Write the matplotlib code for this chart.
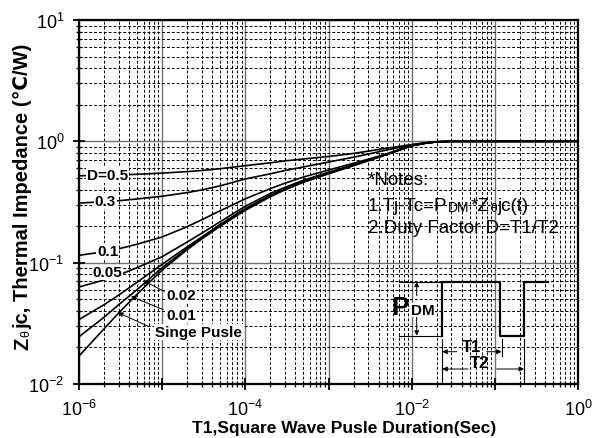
import numpy as np
import matplotlib
matplotlib.use("Agg")
import matplotlib.pyplot as plt
from matplotlib.ticker import LogLocator, NullFormatter

plt.rcParams['font.family'] = ['Liberation Sans', 'DejaVu Sans']
plt.rcParams['mathtext.fontset'] = 'custom'
plt.rcParams['mathtext.rm'] = 'Liberation Sans'
plt.rcParams['mathtext.it'] = 'Liberation Sans:italic'
plt.rcParams['mathtext.bf'] = 'Liberation Sans:bold'

# ===== pulse width (s) =====
t_pulse = np.array([1e-6, 2e-6, 3e-6, 5e-6, 1e-5, 2e-5, 3e-5, 5e-5, 1e-4, 2e-4, 3e-4,
                    5e-4, 1e-3, 2e-3, 3e-3, 5e-3, 1e-2, 1.5e-2, 2e-2, 3e-2, 1e-1, 1.0])

# ===== Zthjc (C/W) for each duty factor =====
z_d050 = [0.520, 0.525, 0.529, 0.535, 0.547, 0.563, 0.575, 0.595, 0.630, 0.665, 0.690,
          0.715, 0.750, 0.795, 0.830, 0.878, 0.940, 0.975, 0.993, 1.0, 1.0, 1.0]
z_d030 = [0.310, 0.318, 0.324, 0.335, 0.353, 0.378, 0.398, 0.430, 0.490, 0.540, 0.575,
          0.615, 0.675, 0.740, 0.785, 0.848, 0.935, 0.972, 0.992, 1.0, 1.0, 1.0]
z_d010 = [0.115, 0.123, 0.130, 0.142, 0.163, 0.198, 0.226, 0.268, 0.336, 0.408, 0.452,
          0.508, 0.580, 0.660, 0.712, 0.790, 0.925, 0.968, 0.990, 1.0, 1.0, 1.0]
z_d005 = [0.063, 0.072, 0.079, 0.091, 0.112, 0.148, 0.175, 0.218, 0.292, 0.372, 0.418,
          0.478, 0.556, 0.642, 0.700, 0.782, 0.922, 0.968, 0.990, 1.0, 1.0, 1.0]
z_d002 = [0.034, 0.045, 0.054, 0.069, 0.097, 0.135, 0.163, 0.207, 0.280, 0.360, 0.406,
          0.468, 0.548, 0.636, 0.697, 0.780, 0.920, 0.968, 0.990, 1.0, 1.0, 1.0]
z_d001 = [0.0245, 0.0355, 0.045, 0.060, 0.091, 0.131, 0.160, 0.203, 0.275, 0.355, 0.402,
          0.464, 0.545, 0.633, 0.695, 0.779, 0.920, 0.968, 0.990, 1.0, 1.0, 1.0]
z_single = [0.017, 0.0285, 0.0385, 0.055, 0.087, 0.128, 0.157, 0.200, 0.270, 0.350, 0.398,
            0.460, 0.540, 0.630, 0.692, 0.778, 0.920, 0.968, 0.990, 1.0, 1.0, 1.0]
curves = [z_d050, z_d030, z_d010, z_d005, z_d002, z_d001, z_single]

# ===== axis ticks =====
x_ticks = [1e-6, 1e-5, 1e-4, 1e-3, 1e-2, 1e-1, 1.0]
x_ticklabels = [r"$10^{-6}$", "", r"$10^{-4}$", "", r"$10^{-2}$", "", r"$10^{0}$"]
y_ticks = [1e-2, 1e-1, 1.0, 10.0]
y_ticklabels = [r"$10^{-2}$", r"$10^{-1}$", r"$10^{0}$", r"$10^{1}$"]

fig = plt.figure(figsize=(5.96, 4.39), dpi=100)
ax = fig.add_axes([79 / 596, 54 / 439, 499 / 596, 364 / 439])

for z in curves:
    ax.plot(t_pulse, z, color="black", lw=1.2, zorder=3)

ax.set_xscale("log")
ax.set_yscale("log")
ax.set_xlim(1e-6, 1.0)
ax.set_ylim(1e-2, 10.0)
ax.set_xticks(x_ticks)
ax.set_xticklabels(x_ticklabels)
ax.set_yticks(y_ticks)
ax.set_yticklabels(y_ticklabels)
ax.xaxis.set_minor_locator(LogLocator(base=10, subs=np.arange(2, 10), numticks=20))
ax.yaxis.set_minor_locator(LogLocator(base=10, subs=np.arange(2, 10), numticks=20))
ax.xaxis.set_minor_formatter(NullFormatter())
ax.yaxis.set_minor_formatter(NullFormatter())
ax.tick_params(which="major", direction="inout", length=9, width=1.3, labelsize=13, pad=6)
ax.tick_params(which="minor", direction="inout", length=5, width=0.9)
for sp in ax.spines.values():
    sp.set_linewidth(1.6)

ax.grid(which="major", color="#707070", lw=1.0, ls="-")
ax.grid(which="minor", color="black", lw=0.7, ls=(0, (3, 2)))
ax.set_axisbelow(True)

# ===== curve labels =====
lbl = dict(fontsize=11, fontweight="bold", va="center", ha="left", zorder=4,
           bbox=dict(facecolor="white", edgecolor="none", pad=0.5))
ax.text(1.25e-6, 0.53, "D=0.5", **lbl)
ax.text(1.55e-6, 0.323, "0.3", **lbl)
ax.text(1.65e-6, 0.125, "0.1", **lbl)
ax.text(1.45e-6, 0.083, "0.05", **lbl)
ax.text(1.12e-5, 0.0537, "0.02", **lbl)
ax.text(1.12e-5, 0.0369, "0.01", **lbl)
ax.text(8.2e-6, 0.0267, "Singe Pusle", **lbl)

arr = dict(arrowstyle="-|>", color="black", lw=0.7, mutation_scale=7, shrinkA=0, shrinkB=0)
ax.annotate("", xy=(10 ** -5.231, 10 ** -1.146), xytext=(10 ** -4.978, 10 ** -1.237), arrowprops=arr, zorder=4)
ax.annotate("", xy=(10 ** -5.375, 10 ** -1.278), xytext=(10 ** -4.99, 10 ** -1.386), arrowprops=arr, zorder=4)
ax.annotate("", xy=(10 ** -5.531, 10 ** -1.411), xytext=(10 ** -5.159, 10 ** -1.527), arrowprops=arr, zorder=4)


def chain(x, y, parts):
    # draws text pieces one after another on the same line
    fs0, s0 = parts[0]
    prev = ax.text(x, y, s0, fontsize=fs0, transform=ax.transAxes, va="bottom", ha="left", zorder=4)
    for fs, s in parts[1:]:
        prev = ax.annotate(s, xy=(1, 0), xycoords=prev, xytext=(0.6, 0), textcoords="offset points",
                           fontsize=fs, va="bottom", ha="left", zorder=4)
    return prev


# ===== notes =====
chain(0.579, 0.538, [(13.5, "*Notes:")])
chain(0.579, 0.468, [(13.5, "1.Tj-Tc=P"), (10, "DM"), (13.5, "*Z"), (8.5, "θ"), (13.5, "jc(t)")])
chain(0.579, 0.406, [(13.5, "2.Duty Factor D=T1/T2")])

# ===== pulse sketch (axes fraction) =====
tr = ax.transAxes
px = [0.728, 0.728, 0.8437, 0.8437, 0.8918, 0.8918, 0.9399]
py = [0.1327, 0.281, 0.281, 0.1327, 0.1327, 0.281, 0.281]
ax.plot(px, py, color="black", lw=1.6, transform=tr, zorder=4)
ax.plot([0.6413, 0.728], [0.281, 0.281], color="black", lw=0.8, transform=tr, zorder=4)
ax.plot([0.6413, 0.728], [0.1327, 0.1327], color="black", lw=0.8, transform=tr, zorder=4)
ax.plot([0.728, 0.728], [0.1236, 0.0055], color="black", lw=0.8, transform=tr, zorder=4)
ax.plot([0.847, 0.847], [0.1236, 0.0769], color="black", lw=0.8, transform=tr, zorder=4)
ax.plot([0.8918, 0.8918], [0.1236, 0.0055], color="black", lw=0.8, transform=tr, zorder=4)

ax.annotate("", xy=(0.6767, 0.281), xytext=(0.6767, 0.2426), xycoords=tr, textcoords=tr, arrowprops=arr)
ax.annotate("", xy=(0.6767, 0.1327), xytext=(0.6767, 0.1876), xycoords=tr, textcoords=tr, arrowprops=arr)
ax.text(0.626, 0.1923, "P", fontsize=19, fontweight="bold", transform=tr, va="baseline", zorder=5)
ax.text(0.665, 0.1923, "DM", fontsize=11, fontweight="bold", transform=tr, va="baseline", zorder=5,
        bbox=dict(facecolor="white", edgecolor="none", pad=0.3))

ax.annotate("", xy=(0.728, 0.0887), xytext=(0.757, 0.0887), xycoords=tr, textcoords=tr, arrowprops=arr)
ax.annotate("", xy=(0.847, 0.0887), xytext=(0.817, 0.0887), xycoords=tr, textcoords=tr, arrowprops=arr)
ax.text(0.787, 0.103, "T1", fontsize=12, fontweight="bold", transform=tr, ha="center", va="center", zorder=5)
ax.annotate("", xy=(0.728, 0.0412), xytext=(0.7796, 0.0412), xycoords=tr, textcoords=tr, arrowprops=arr)
ax.annotate("", xy=(0.8918, 0.0412), xytext=(0.837, 0.0412), xycoords=tr, textcoords=tr, arrowprops=arr)
ax.text(0.8036, 0.0596, "T2", fontsize=12, fontweight="bold", transform=tr, ha="center", va="center", zorder=5)

# ===== axis labels =====
ax.set_xlabel("T1,Square Wave Pusle Duration(Sec)", fontsize=12.5, fontweight="bold")
ax.xaxis.set_label_coords(0.531, -0.1)

ylab = ax.text(-0.094, 0.096, "Z", fontsize=14.5, fontweight="bold", rotation=90,
               transform=tr, ha="right", va="bottom")
ylab = ax.annotate("θ", xy=(1, 1), xycoords=ylab, xytext=(0, 0.8), textcoords="offset points",
                   fontsize=9, rotation=90, ha="right", va="bottom")
ax.annotate("jc, Thermal Impedance (℃/W)", xy=(1, 1), xycoords=ylab, xytext=(0, 0.8),
            textcoords="offset points", fontsize=14.5, fontweight="bold", rotation=90,
            ha="right", va="bottom")

fig.savefig("out.png", dpi=100)
